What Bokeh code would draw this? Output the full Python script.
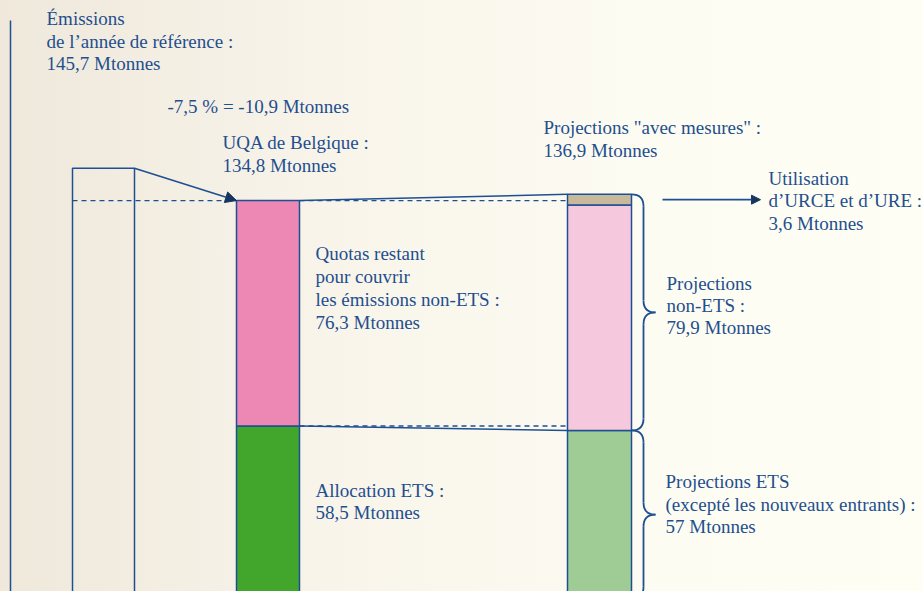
from bokeh.plotting import figure
from bokeh.models import Range1d, Arrow, NormalHead, ColumnDataSource
from bokeh.core.properties import value
from bokeh.embed import file_html
from bokeh.resources import INLINE

# ---------------- data (Mtonnes) ----------------
base_emissions = 145.7          # émissions de l'année de référence
reduction_pct = -7.5            # objectif de réduction (%)
reduction = -10.9               # réduction (Mtonnes)
uqa_belgium = 134.8             # UQA de Belgique
ets_allocation = 58.5           # allocation ETS
non_ets_quota = 76.3            # quotas restant pour le non-ETS
proj_total = 136.9              # projections "avec mesures"
proj_ets = 57.0                 # projections ETS
proj_non_ets = 79.9             # projections non-ETS
cers_erus = 3.6                 # utilisation d'URCE et d'URE


def fr(v):
    return f"{v:g}".replace(".", ",")


# ---------------- layout / style ----------------
W, H = 923, 591
Y0, Y1 = 2.5, 202.5
PX_PER_Y = H / (Y1 - Y0)
TEXT_SHIFT = -7


def yv(page_y):
    """page pixel row -> data value (for annotation placement only)"""
    return Y1 - page_y / PX_PER_Y


BLUE = "#1d4f92"
TEXT = "#1f4f8e"
FONT = "Liberation Serif, DejaVu Serif, serif"
FS = "19px"

bar_x = [(72, 134), (236, 299), (567, 631)]

p = figure(width=W, height=H, x_range=Range1d(0, W), y_range=Range1d(Y0, Y1),
           output_backend="svg", toolbar_location=None, min_border=0,
           x_axis_location=None, y_axis_location=None)
p.grid.visible = False
p.outline_line_color = None
p.background_fill_alpha = 0
p.border_fill_alpha = 0

# vertical rule at left
p.segment(x0=[10], y0=[yv(20)], x1=[10], y1=[Y0 - 10], line_color=BLUE, line_width=1.5)

# bar 1 : base year emissions (outline)
l, r = bar_x[0]
p.quad(left=[l], right=[r], bottom=[0], top=[base_emissions],
       fill_alpha=0, line_color=BLUE, line_width=1.5)

# bar 2 : UQA split into ETS allocation and non-ETS quotas
l, r = bar_x[1]
b2_bottom = [0, ets_allocation]
b2_top = [ets_allocation, ets_allocation + non_ets_quota]
p.quad(left=[l, l], right=[r, r], bottom=b2_bottom, top=b2_top,
       fill_color=["#42a52c", "#ec88b3"], line_color=BLUE, line_width=1.5)

# bar 3 : projections
l, r = bar_x[2]
pink_top = proj_ets + proj_non_ets - cers_erus
b3_bottom = [0, proj_ets, pink_top]
b3_top = [proj_ets, pink_top, proj_ets + proj_non_ets]
p.quad(left=[l] * 3, right=[r] * 3, bottom=b3_bottom, top=b3_top,
       fill_color=["#9fcb95", "#f6c8de", "#c8b99b"], line_color=BLUE, line_width=1.5)

uqa_top = ets_allocation + non_ets_quota
proj_top = proj_ets + proj_non_ets

# dashed reference lines
p.segment(x0=[bar_x[0][0], bar_x[1][1], bar_x[1][1]],
          y0=[uqa_top, uqa_top, ets_allocation],
          x1=[bar_x[1][0], bar_x[2][0], bar_x[2][0]],
          y1=[uqa_top, uqa_top, ets_allocation],
          line_color=BLUE, line_width=1.3, line_dash="5 4")

# solid connectors bar 2 -> bar 3
p.segment(x0=[bar_x[1][1], bar_x[1][1]], y0=[uqa_top, ets_allocation],
          x1=[bar_x[2][0], bar_x[2][0]], y1=[proj_top, proj_ets],
          line_color=BLUE, line_width=1.5)

# reduction arrow bar 1 -> bar 2
p.add_layout(Arrow(end=NormalHead(size=11, fill_color="#17365f", line_color="#17365f"),
                   x_start=bar_x[0][1], y_start=base_emissions,
                   x_end=bar_x[1][0], y_end=uqa_top,
                   line_color=BLUE, line_width=1.6))

# CER/ERU arrow
tan_mid = (pink_top + proj_top) / 2
p.add_layout(Arrow(end=NormalHead(size=9, fill_color="#17365f", line_color="#17365f"),
                   x_start=662, y_start=tan_mid, x_end=760, y_end=tan_mid,
                   line_color=BLUE, line_width=1.6))

# braces
def brace(x0, top, bottom, r=12):
    ry = r / PX_PER_Y
    mid = (top + bottom) / 2
    xs = x0 + r
    p.quadratic(x0=[x0, xs, xs + r, xs], y0=[top, mid + ry, mid, bottom + ry],
                x1=[xs, xs + r, xs, x0], y1=[top - ry, mid, mid - ry, bottom],
                cx=[xs, xs, xs, xs], cy=[top, mid, mid, bottom],
                line_color=BLUE, line_width=1.8)
    p.segment(x0=[xs, xs], y0=[top - ry, mid - ry], x1=[xs, xs], y1=[mid + ry, bottom + ry],
              line_color=BLUE, line_width=1.8)

brace(bar_x[2][1], proj_top, proj_ets)
brace(bar_x[2][1], proj_ets, 0)

# ---------------- texts ----------------
M = " Mtonnes"
texts = [
    (46, 25, "Émissions"),
    (46, 48, "de l’année de référence :"),
    (46, 70, fr(base_emissions) + M),
    (167, 113, f"{fr(reduction_pct)} % = {fr(reduction)}" + M),
    (222, 149, "UQA de Belgique :"),
    (222, 172, fr(uqa_belgium) + M),
    (543, 134, 'Projections "avec mesures" :'),
    (543, 157, fr(proj_total) + M),
    (768, 185, "Utilisation"),
    (768, 207, "d’URCE et d’URE :"),
    (768, 230, fr(cers_erus) + M),
    (315, 260, "Quotas restant"),
    (315, 283, "pour couvrir"),
    (315, 306, "les émissions non-ETS :"),
    (315, 329, fr(non_ets_quota) + M),
    (666, 290, "Projections"),
    (666, 312, "non-ETS :"),
    (666, 334, fr(proj_non_ets) + M),
    (315, 497, "Allocation ETS :"),
    (315, 519, fr(ets_allocation) + M),
    (665, 488, "Projections ETS"),
    (665, 511, "(excepté les nouveaux entrants) :"),
    (665, 533, fr(proj_ets) + M),
]
src = ColumnDataSource(dict(x=[t[0] for t in texts],
                            y=[yv(t[1] + TEXT_SHIFT) for t in texts],
                            text=[t[2] for t in texts]))
p.text(x="x", y="y", text="text", source=src, text_font=value(FONT), text_font_size=FS,
       text_color=TEXT, text_baseline="alphabetic", text_align="left")

html = file_html(p, INLINE)
style = ("<style>html,body{overflow:hidden;background:linear-gradient(to right,#efe8db 0%,"
         "#f8f4ea 35%,#fdfcf2 70%,#fefef4 100%);}</style>")
html = html.replace("</head>", style + "</head>", 1)
open("out.html", "w").write(html)
